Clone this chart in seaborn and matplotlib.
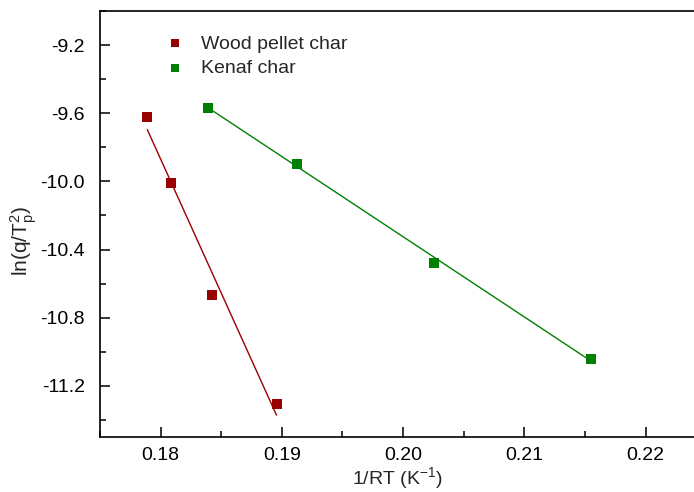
import numpy as np
import pandas as pd
import matplotlib
matplotlib.use("Agg")
import matplotlib.pyplot as plt
from matplotlib.ticker import MultipleLocator, FormatStrFormatter
import seaborn as sns

# Kissinger-type data: 1/RT against ln(q/Tp^2)
wood_x = [0.17890, 0.18085, 0.18421, 0.18956]
wood_y = [-9.624, -10.008, -10.665, -11.304]
kenaf_x = [0.18391, 0.19124, 0.20254, 0.21554]
kenaf_y = [-9.567, -9.896, -10.476, -11.041]

series_names = ["Wood pellet char", "Kenaf char"]
series_colors = ["#990000", "#008000"]

sns.set_theme(style="ticks")
plt.rcParams["font.family"] = ["Liberation Sans", "DejaVu Sans"]
plt.rcParams["mathtext.fontset"] = "custom"
plt.rcParams["mathtext.rm"] = "Liberation Sans"
plt.rcParams["mathtext.it"] = "Liberation Sans"
plt.rcParams["mathtext.default"] = "regular"
plt.rcParams["axes.unicode_minus"] = False

FS = 14

fig = plt.figure(figsize=(6.94, 4.92), dpi=100)
ax = fig.add_axes([100 / 694, 1 - 437 / 492, 1 - 100 / 694, (437 - 11) / 492])

for name, color, xs, ys in zip(series_names, series_colors,
                               [wood_x, kenaf_x], [wood_y, kenaf_y]):
    df = pd.DataFrame({"x": xs, "y": ys})
    sns.regplot(data=df, x="x", y="y", ax=ax, ci=None, marker="s",
                color=color, label=name,
                scatter_kws={"s": 55, "linewidths": 0, "alpha": 1},
                line_kws={"lw": 1.0})

ax.set_xlim(0.175, 0.2240)
ax.set_ylim(-11.5, -9.0)
ax.xaxis.set_major_locator(MultipleLocator(0.01))
ax.xaxis.set_minor_locator(MultipleLocator(0.005))
ax.yaxis.set_major_locator(MultipleLocator(0.4))
ax.yaxis.set_minor_locator(MultipleLocator(0.2))
ax.xaxis.set_major_formatter(FormatStrFormatter("%.2f"))
ax.yaxis.set_major_formatter(FormatStrFormatter("%.1f"))

for s in ["left", "bottom", "top"]:
    ax.spines[s].set_linewidth(1.2)
    ax.spines[s].set_color("black")
ax.spines["right"].set_visible(False)

ax.tick_params(axis="both", which="major", direction="in", length=7,
               width=1.1, labelsize=FS, colors="black")
ax.tick_params(axis="both", which="minor", direction="in", length=4,
               width=1.1, colors="black")
ax.tick_params(axis="y", which="major", pad=11)
ax.tick_params(axis="x", which="major", pad=7)

ax.set_xlabel("1/RT (K$^{-1}$)", fontsize=FS, labelpad=1)
ax.set_ylabel("ln(q/T$_p^2$)", fontsize=15)
ax.yaxis.set_label_coords(-0.102, 0.46)

leg = ax.legend(loc="upper left", bbox_to_anchor=(0.072, 0.985), frameon=False,
                fontsize=FS, handletextpad=0.6, labelspacing=0.34,
                markerscale=0.75, handlelength=1.5)

fig.savefig("out.png", dpi=100)
